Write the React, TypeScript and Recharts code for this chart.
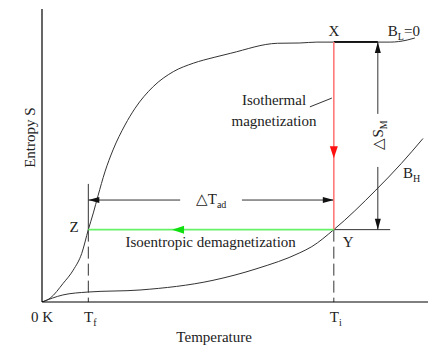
import { LineChart, Line, XAxis, YAxis, ReferenceLine, ReferenceDot } from "recharts";

// S(T) curves, arbitrary units: temperature 0..100, entropy 0..100
const zeroFieldT = [0, 2.1, 5.5, 8.1, 10.3, 12, 13.3, 14.5, 16.3, 18.4, 21.5, 24.1, 28.8, 34, 39.2, 44.6, 48.9, 61, 66.8, 71.2, 75.6, 87, 90.2, 94.6, 96.6];
const zeroFieldS = [0, 1.3, 6.4, 10.9, 16.6, 24.7, 30.4, 36.2, 44.4, 51.9, 60.4, 66.1, 73.5, 78.6, 81.5, 83.5, 84.9, 88.3, 88.4, 88.7, 88.7, 88.7, 88.7, 89.4, 90.1];

const highFieldT = [0, 5.4, 11.9, 25.4, 44.3, 55.7, 66.8, 69.9, 75.6, 86.5, 93.1, 98.7];
const highFieldS = [0, 2.4, 3.4, 4.1, 7.4, 11.4, 16.8, 18.9, 24.7, 38.2, 47.3, 55.8];

// cycle points: initial / final temperature, entropy at X and at Y (= Z)
const T_F = 12;
const T_I = 75.6;
const S_X = 88.7;
const S_Y = 24.7;

const tickValues = [0, T_F, T_I];
const tickLabels: [string, string][] = [["0 K", ""], ["T", "f"], ["T", "i"]];

const zeroField = zeroFieldT.map((t, i) => ({ t, s: zeroFieldS[i] }));
const highField = highFieldT.map((t, i) => ({ t, s: highFieldS[i] }));

// construction lines of the diagram
const DS_X = 87; // ΔS_M bracket
const DS_BOTTOM_END = 90.2;
const DS_GAP = [64.2, 46.1];
const DT_S = 34.8; // ΔT_ad bracket
const DT_GAP = [35.8, 51.8];
const TF_TOP = 40.3;

const FONT = "'Liberation Serif', 'Times New Roman', serif";
const INK = "#222";
const LINE = "#333";

type NoteOpts = { anchor?: "start" | "middle" | "end"; dx?: number; dy?: number; rotate?: boolean };

const note = (main: string, sub = "", tail = "", o: NoteOpts = {}) => (p: any) => {
  const x = p.cx + (o.dx ?? 0);
  const y = p.cy + (o.dy ?? 0);
  return (
    <text
      x={x}
      y={y}
      textAnchor={o.anchor ?? "middle"}
      fontFamily={FONT}
      fontSize={15}
      fill={INK}
      transform={o.rotate ? `rotate(-90 ${x} ${y})` : undefined}
    >
      <tspan>{main}</tspan>
      {sub && (
        <tspan fontSize={10} dy={4}>
          {sub}
        </tspan>
      )}
      {tail && <tspan dy={-4}>{tail}</tspan>}
    </text>
  );
};

const head = (dir: "up" | "down" | "left" | "right", fill: string, len = 11, half = 3) => (p: any) => {
  const { cx, cy } = p;
  let pts: number[][];
  if (dir === "down") pts = [[cx, cy], [cx - half, cy - len], [cx + half, cy - len]];
  else if (dir === "up") pts = [[cx, cy], [cx - half, cy + len], [cx + half, cy + len]];
  else if (dir === "left") pts = [[cx, cy], [cx + len, cy - half], [cx + len, cy + half]];
  else pts = [[cx, cy], [cx - len, cy - half], [cx - len, cy + half]];
  return <polygon points={pts.map((q) => q.join(",")).join(" ")} fill={fill} />;
};

function TempTick(props: any) {
  const { x, y, payload } = props;
  const [main, sub] = tickLabels[tickValues.indexOf(payload.value)] ?? [String(payload.value), ""];
  return (
    <text x={x + (sub ? 2 : 0)} y={y + 12} textAnchor="middle" fontFamily={FONT} fontSize={15} fill={INK}>
      <tspan>{main}</tspan>
      {sub && (
        <tspan fontSize={10} dy={4}>
          {sub}
        </tspan>
      )}
    </text>
  );
}

const seg = (x1: number, y1: number, x2: number, y2: number) => [
  { x: x1, y: y1 },
  { x: x2, y: y2 },
];

export default function App() {
  return (
    <div style={{ position: "absolute", left: 0, top: 0, width: 428, height: 345, background: "#fff" }}>
      <LineChart width={428} height={345} margin={{ top: 9, right: 0, left: 0, bottom: 0 }}>
        <XAxis
          dataKey="t"
          type="number"
          domain={[0, 100]}
          ticks={tickValues}
          tickLine={false}
          tick={<TempTick />}
          height={43}
          axisLine={{ stroke: "#000", strokeWidth: 1.2 }}
          allowDataOverflow
        />
        <YAxis
          dataKey="s"
          type="number"
          domain={[0, 100]}
          tick={false}
          tickLine={false}
          width={42}
          axisLine={{ stroke: "#000", strokeWidth: 1.2 }}
          allowDataOverflow
        />

        {/* dashed temperature markers */}
        <ReferenceLine segment={seg(T_F, TF_TOP, T_F, S_Y)} stroke={LINE} />
        <ReferenceLine segment={seg(T_F, S_Y, T_F, 0)} stroke={LINE} strokeDasharray="12 5" />
        <ReferenceLine segment={seg(T_I, S_Y, T_I, 0)} stroke={LINE} strokeDasharray="12 5" />

        {/* ΔT_ad bracket */}
        <ReferenceLine segment={seg(T_F, DT_S, DT_GAP[0], DT_S)} stroke={LINE} />
        <ReferenceLine segment={seg(DT_GAP[1], DT_S, T_I, DT_S)} stroke={LINE} />

        {/* ΔS_M bracket */}
        <ReferenceLine segment={seg(T_I, S_X, DS_X, S_X)} stroke="#000" strokeWidth={2} />
        <ReferenceLine segment={seg(T_I, S_Y, DS_BOTTOM_END, S_Y)} stroke={LINE} />
        <ReferenceLine segment={seg(DS_X, S_X, DS_X, DS_GAP[0])} stroke={LINE} />
        <ReferenceLine segment={seg(DS_X, DS_GAP[1], DS_X, S_Y)} stroke={LINE} />

        {/* leader for the isothermal label */}
        <ReferenceLine segment={seg(69.4, 66.6, 75.1, 69.6)} stroke={LINE} />

        <Line data={zeroField} dataKey="s" type="monotone" stroke={LINE} strokeWidth={1} dot={false} isAnimationActive={false} />
        <Line data={highField} dataKey="s" type="monotone" stroke={LINE} strokeWidth={1} dot={false} isAnimationActive={false} />

        {/* isothermal magnetization X -> Y, isentropic demagnetization Y -> Z */}
        <ReferenceLine segment={seg(T_I, S_X, T_I, S_Y)} stroke="#ff7a7a" strokeWidth={1.6} />
        <ReferenceLine segment={seg(T_I, S_Y, T_F, S_Y)} stroke="#66f266" strokeWidth={1.6} />

        <ReferenceDot x={T_I} y={49.1} r={0} shape={head("down", "#ff1010", 12, 4)} />
        <ReferenceDot x={33.7} y={S_Y} r={0} shape={head("left", "#10e010", 12, 4)} />
        <ReferenceDot x={T_F} y={DT_S} r={0} shape={head("left", "#111")} />
        <ReferenceDot x={T_I} y={DT_S} r={0} shape={head("right", "#111")} />
        <ReferenceDot x={DS_X} y={S_X} r={0} shape={head("up", "#111")} />
        <ReferenceDot x={DS_X} y={S_Y} r={0} shape={head("down", "#111")} />

        {/* annotations */}
        <ReferenceDot x={T_I} y={S_X} r={0} shape={note("X", "", "", { dy: -6 })} />
        <ReferenceDot x={89.6} y={S_X} r={0} shape={note("B", "L", "=0", { anchor: "start", dy: -6 })} />
        <ReferenceDot x={60.1} y={67.2} r={0} shape={note("Isothermal")} />
        <ReferenceDot x={60.1} y={60.1} r={0} shape={note("magnetization")} />
        <ReferenceDot x={88.3} y={57} r={0} shape={note("△S", "M", "", { rotate: true })} />
        <ReferenceDot x={93.5} y={42.3} r={0} shape={note("B", "H", "", { anchor: "start" })} />
        <ReferenceDot x={43.8} y={33.4} r={0} shape={note("△T", "ad")} />
        <ReferenceDot x={8.3} y={23.9} r={0} shape={note("Z")} />
        <ReferenceDot x={79.3} y={18.8} r={0} shape={note("Y")} />
        <ReferenceDot x={43.7} y={18.9} r={0} shape={note("Isoentropic demagnetization")} />
        <ReferenceDot x={-1.8} y={56.1} r={0} ifOverflow="visible" shape={note("Entropy S", "", "", { rotate: true })} />
        <ReferenceDot x={44.6} y={-13.65} r={0} ifOverflow="visible" shape={note("Temperature")} />
      </LineChart>
    </div>
  );
}
